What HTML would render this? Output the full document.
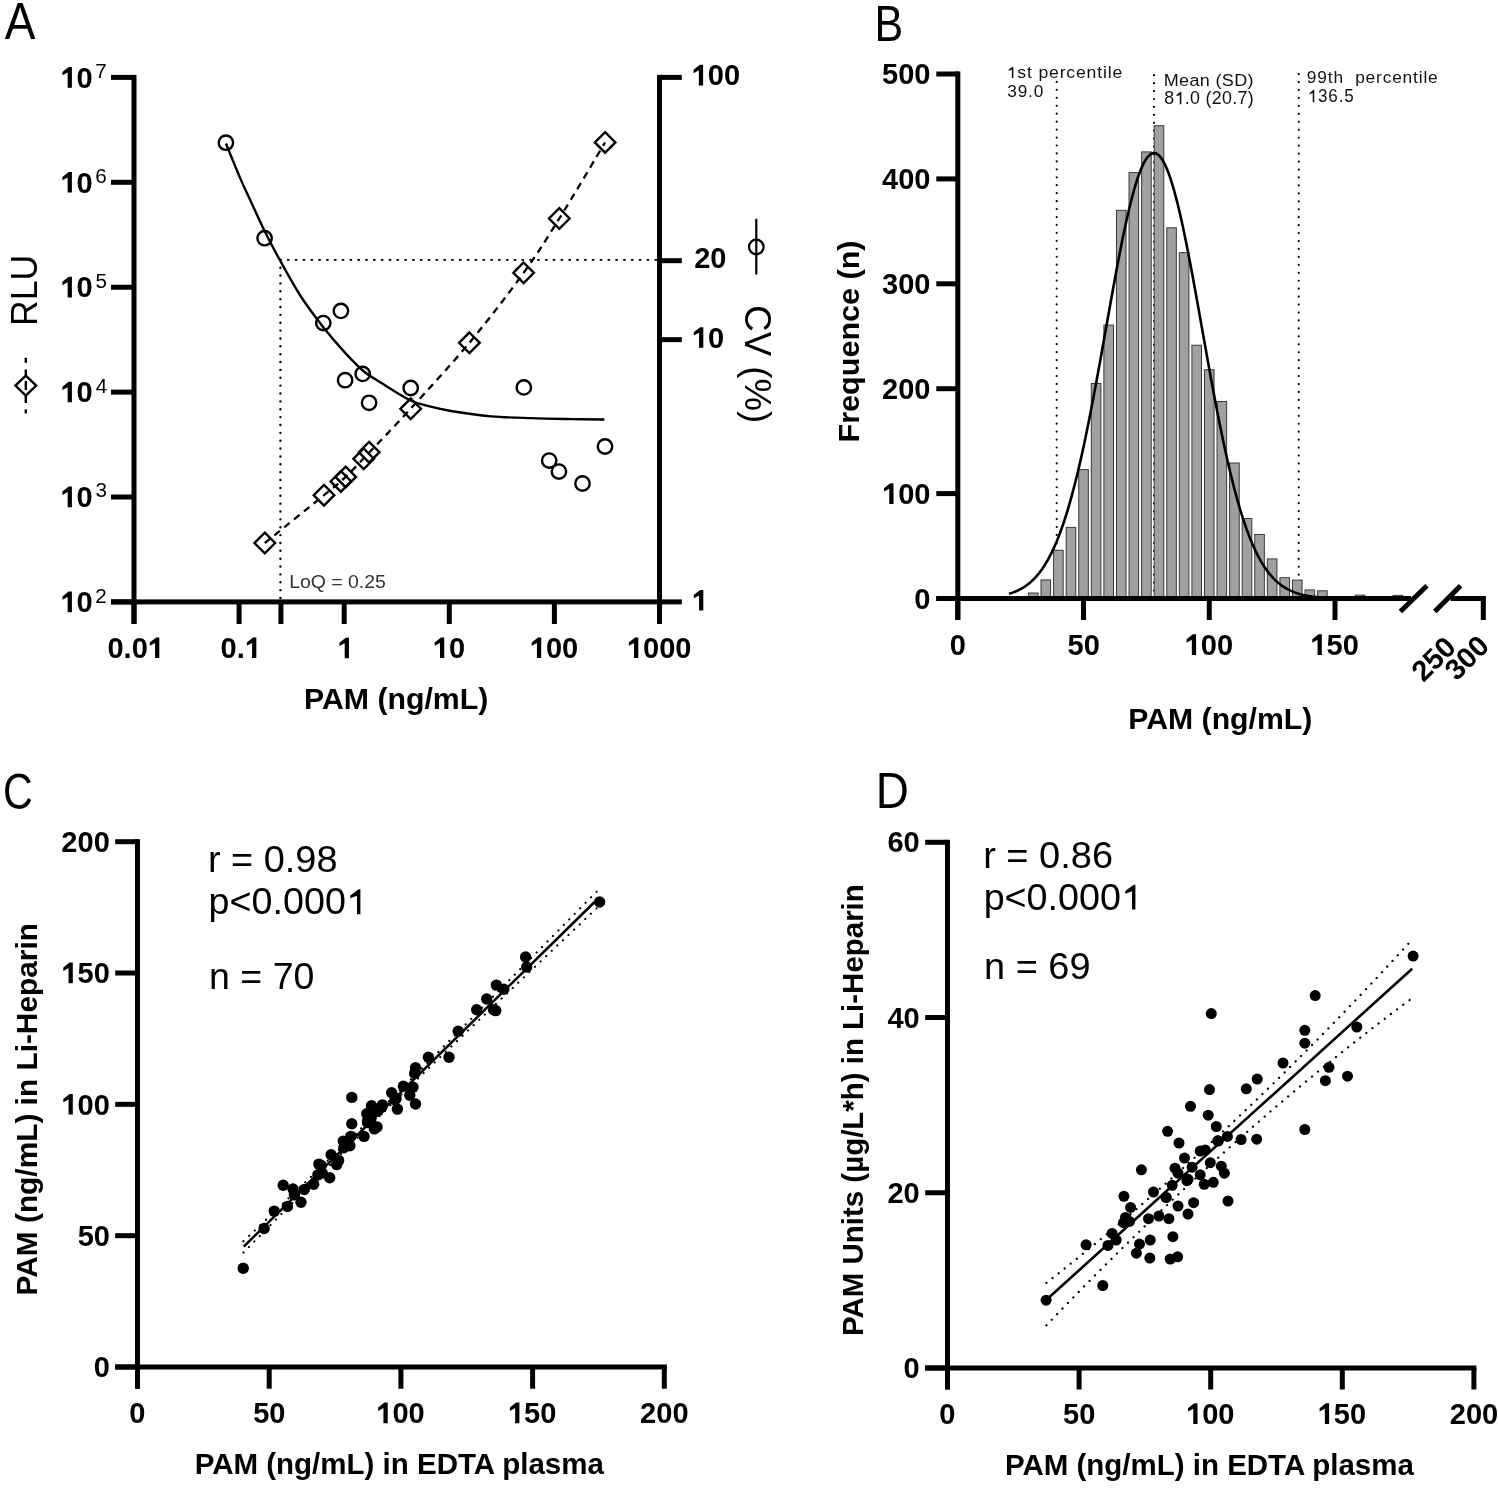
<!DOCTYPE html>
<html><head><meta charset="utf-8"><style>
html,body{margin:0;padding:0;background:#fff;}
svg{display:block;filter:grayscale(1);}
text{font-family:"Liberation Sans", sans-serif;}
</style></head><body>
<svg width="1498" height="1489" viewBox="0 0 1498 1489">
<rect width="1498" height="1489" fill="#fff"/>
<g transform="translate(4.770,38.700) scale(0.9212,1.0219)"><text x="0" y="0" font-size="50" >A</text></g>
<g transform="translate(874.561,41.100) scale(0.8598,1.0087)"><text x="0" y="0" font-size="50" >B</text></g>
<g transform="translate(2.937,809.193) scale(0.8254,1.0141)"><text x="0" y="0" font-size="50" >C</text></g>
<g transform="translate(875.729,808.400) scale(0.9176,1.0058)"><text x="0" y="0" font-size="50" >D</text></g>
<rect x="131.50" y="74.90" width="5.00" height="549.10" fill="#000"/>
<rect x="111.00" y="599.40" width="23.00" height="5.00" fill="#000"/>
<rect x="111.00" y="494.50" width="23.00" height="5.00" fill="#000"/>
<rect x="111.00" y="389.60" width="23.00" height="5.00" fill="#000"/>
<rect x="111.00" y="284.70" width="23.00" height="5.00" fill="#000"/>
<rect x="111.00" y="179.80" width="23.00" height="5.00" fill="#000"/>
<rect x="111.00" y="74.90" width="23.00" height="5.00" fill="#000"/>
<rect x="657.00" y="74.90" width="5.00" height="549.10" fill="#000"/>
<rect x="659.50" y="74.90" width="22.30" height="5.00" fill="#000"/>
<rect x="659.50" y="258.20" width="22.30" height="5.00" fill="#000"/>
<rect x="659.50" y="337.15" width="22.30" height="5.00" fill="#000"/>
<rect x="659.50" y="599.40" width="22.30" height="5.00" fill="#000"/>
<rect x="111.00" y="599.40" width="551.00" height="5.00" fill="#000"/>
<rect x="131.50" y="601.90" width="5.00" height="22.10" fill="#000"/>
<rect x="236.60" y="601.90" width="5.00" height="22.10" fill="#000"/>
<rect x="278.42" y="601.90" width="5.00" height="22.10" fill="#000"/>
<rect x="341.70" y="601.90" width="5.00" height="22.10" fill="#000"/>
<rect x="446.80" y="601.90" width="5.00" height="22.10" fill="#000"/>
<rect x="551.90" y="601.90" width="5.00" height="22.10" fill="#000"/>
<rect x="657.00" y="601.90" width="5.00" height="22.10" fill="#000"/>
<g transform="translate(60.441,612.143) scale(1.0023,1.0337)"><text x="0" y="0" font-size="29" font-weight="bold" > 0</text><path d="M11.441,0.000 L7.193,0.000 L7.193,-14.656 L1.954,-11.909 L1.954,-15.123 L8.213,-19.952 L11.441,-19.952Z"/></g>
<g transform="translate(95.167,602.650) scale(1.0333,1.0071)"><text x="0" y="0" font-size="20" >2</text></g>
<g transform="translate(60.441,507.243) scale(1.0023,1.0337)"><text x="0" y="0" font-size="29" font-weight="bold" > 0</text><path d="M11.441,0.000 L7.193,0.000 L7.193,-14.656 L1.954,-11.909 L1.954,-15.123 L8.213,-19.952 L11.441,-19.952Z"/></g>
<g transform="translate(95.425,497.498) scale(1.0333,1.0071)"><text x="0" y="0" font-size="20" >3</text></g>
<g transform="translate(60.441,402.343) scale(1.0023,1.0337)"><text x="0" y="0" font-size="29" font-weight="bold" > 0</text><path d="M11.441,0.000 L7.193,0.000 L7.193,-14.656 L1.954,-11.909 L1.954,-15.123 L8.213,-19.952 L11.441,-19.952Z"/></g>
<g transform="translate(95.683,392.850) scale(1.0333,1.0071)"><text x="0" y="0" font-size="20" >4</text></g>
<g transform="translate(60.441,297.443) scale(1.0023,1.0337)"><text x="0" y="0" font-size="29" font-weight="bold" > 0</text><path d="M11.441,0.000 L7.193,0.000 L7.193,-14.656 L1.954,-11.909 L1.954,-15.123 L8.213,-19.952 L11.441,-19.952Z"/></g>
<g transform="translate(95.425,287.698) scale(1.0333,1.0071)"><text x="0" y="0" font-size="20" >5</text></g>
<g transform="translate(60.441,192.543) scale(1.0023,1.0337)"><text x="0" y="0" font-size="29" font-weight="bold" > 0</text><path d="M11.441,0.000 L7.193,0.000 L7.193,-14.656 L1.954,-11.909 L1.954,-15.123 L8.213,-19.952 L11.441,-19.952Z"/></g>
<g transform="translate(95.167,182.798) scale(1.0333,1.0071)"><text x="0" y="0" font-size="20" >6</text></g>
<g transform="translate(60.441,87.643) scale(1.0023,1.0337)"><text x="0" y="0" font-size="29" font-weight="bold" > 0</text><path d="M11.441,0.000 L7.193,0.000 L7.193,-14.656 L1.954,-11.909 L1.954,-15.123 L8.213,-19.952 L11.441,-19.952Z"/></g>
<g transform="translate(95.167,78.150) scale(1.0333,1.0071)"><text x="0" y="0" font-size="20" >7</text></g>
<g transform="translate(691.641,85.493) scale(1.0023,1.0337)"><text x="0" y="0" font-size="29" font-weight="bold" > 00</text><path d="M11.441,0.000 L7.193,0.000 L7.193,-14.656 L1.954,-11.909 L1.954,-15.123 L8.213,-19.952 L11.441,-19.952Z"/></g>
<g transform="translate(694.198,268.393) scale(1.0023,1.0337)"><text x="0" y="0" font-size="29" font-weight="bold" >20</text></g>
<g transform="translate(691.841,347.793) scale(1.0023,1.0337)"><text x="0" y="0" font-size="29" font-weight="bold" > 0</text><path d="M11.441,0.000 L7.193,0.000 L7.193,-14.656 L1.954,-11.909 L1.954,-15.123 L8.213,-19.952 L11.441,-19.952Z"/></g>
<g transform="translate(691.841,610.600) scale(1.0023,1.0337)"><path d="M11.441,0.000 L7.193,0.000 L7.193,-14.656 L1.954,-11.909 L1.954,-15.123 L8.213,-19.952 L11.441,-19.952Z"/></g>
<g transform="translate(107.437,658.093) scale(1.0023,1.0337)"><text x="0" y="0" font-size="29" font-weight="bold" >0.0 </text><path d="M51.754,0.000 L47.506,0.000 L47.506,-14.656 L42.267,-11.909 L42.267,-15.123 L48.525,-19.952 L51.754,-19.952Z"/></g>
<g transform="translate(220.620,658.093) scale(1.0023,1.0337)"><text x="0" y="0" font-size="29" font-weight="bold" >0. </text><path d="M35.625,0.000 L31.377,0.000 L31.377,-14.656 L26.138,-11.909 L26.138,-15.123 L32.396,-19.952 L35.625,-19.952Z"/></g>
<g transform="translate(337.487,658.300) scale(1.0023,1.0337)"><path d="M11.441,0.000 L7.193,0.000 L7.193,-14.656 L1.954,-11.909 L1.954,-15.123 L8.213,-19.952 L11.441,-19.952Z"/></g>
<g transform="translate(432.785,658.093) scale(1.0023,1.0337)"><text x="0" y="0" font-size="29" font-weight="bold" > 0</text><path d="M11.441,0.000 L7.193,0.000 L7.193,-14.656 L1.954,-11.909 L1.954,-15.123 L8.213,-19.952 L11.441,-19.952Z"/></g>
<g transform="translate(529.741,658.093) scale(1.0023,1.0337)"><text x="0" y="0" font-size="29" font-weight="bold" > 00</text><path d="M11.441,0.000 L7.193,0.000 L7.193,-14.656 L1.954,-11.909 L1.954,-15.123 L8.213,-19.952 L11.441,-19.952Z"/></g>
<g transform="translate(626.823,658.093) scale(1.0023,1.0337)"><text x="0" y="0" font-size="29" font-weight="bold" > 000</text><path d="M11.441,0.000 L7.193,0.000 L7.193,-14.656 L1.954,-11.909 L1.954,-15.123 L8.213,-19.952 L11.441,-19.952Z"/></g>
<g transform="translate(303.947,709.199) scale(1.0264,0.9766)"><text x="0" y="0" font-size="29.5" font-weight="bold" >PAM (ng/mL)</text></g>
<g transform="translate(36.691,325.971) rotate(-90) scale(0.9902,1.0297)"><text x="0" y="0" font-size="36" >RLU</text></g>
<path d="M25.8,375.6 L36.2,385.6 L25.8,395.6 L15.4,385.6 Z" fill="none" stroke="#000" stroke-width="2.4"/>
<rect x="24.60" y="357.80" width="2.40" height="5.00" fill="#000"/>
<rect x="24.60" y="369.50" width="2.40" height="5.50" fill="#000"/>
<rect x="24.60" y="381.00" width="2.40" height="9.00" fill="#000"/>
<rect x="24.60" y="395.70" width="2.40" height="7.30" fill="#000"/>
<rect x="24.60" y="409.40" width="2.40" height="4.00" fill="#000"/>
<g transform="translate(744.858,305.221) rotate(90) scale(0.9896,0.9755)"><text x="0" y="0" font-size="37" >CV (%)</text></g>
<line x1="756.3" y1="218.8" x2="756.3" y2="274.5" stroke="#000" stroke-width="2.2"/>
<circle cx="756.3" cy="247" r="7.3" fill="none" stroke="#000" stroke-width="2.3"/>
<path d="M279.20,259.80 L657.00,259.80" fill="none" stroke="#000" stroke-width="1.8" stroke-dasharray="2.60 5.217" />
<path d="M280.40,259.80 L280.40,598.00" fill="none" stroke="#000" stroke-width="2.4" stroke-linecap="round" stroke-dasharray="0.01 7.855" />
<g transform="translate(289.152,587.715) scale(0.8843,0.8256)" fill="#333"><text x="0" y="0" font-size="22" >LoQ = 0.25</text></g>
<path d="M225.90,143.50 C228.32,149.35 236.30,169.07 240.40,178.60 C244.50,188.13 246.47,191.97 250.50,200.70 C254.53,209.43 259.73,221.15 264.60,231.00 C269.47,240.85 273.65,248.88 279.70,259.80 C285.75,270.72 293.57,285.18 300.90,296.50 C308.23,307.82 316.32,318.30 323.70,327.70 C331.08,337.10 338.58,345.68 345.20,352.90 C351.82,360.12 357.35,365.97 363.40,371.00 C369.45,376.03 373.63,378.18 381.50,383.10 C389.37,388.02 402.40,396.58 410.60,400.50 C418.80,404.42 423.98,404.85 430.70,406.60 C437.42,408.35 440.82,409.38 450.90,411.00 C460.98,412.62 477.77,415.10 491.20,416.30 C504.63,417.50 518.07,417.73 531.50,418.20 C544.93,418.67 559.65,418.88 571.80,419.10 C583.95,419.32 598.97,419.43 604.40,419.50" fill="none" stroke="#000" stroke-width="2.35"/>
<path d="M264.80,543.00 C274.67,535.03 310.92,505.83 324.00,495.20 C337.08,484.57 336.23,485.82 343.30,479.20 C350.37,472.58 355.17,467.27 366.40,455.50 C377.63,443.73 393.53,427.38 410.70,408.60 C427.87,389.82 450.58,365.43 469.40,342.80 C488.22,320.17 508.62,293.52 523.60,272.80 C538.58,252.08 545.72,240.23 559.30,218.50 C572.88,196.77 597.47,155.08 605.10,142.40" fill="none" stroke="#000" stroke-width="2.3" stroke-dasharray="7 5.5" stroke-linecap="butt"/>
<path d="M264.80,532.70 L275.10,543.00 L264.80,553.30 L254.50,543.00 Z" fill="none" stroke="#000" stroke-width="2.4"/>
<path d="M324.00,484.90 L334.30,495.20 L324.00,505.50 L313.70,495.20 Z" fill="none" stroke="#000" stroke-width="2.4"/>
<path d="M340.90,471.10 L351.20,481.40 L340.90,491.70 L330.60,481.40 Z" fill="none" stroke="#000" stroke-width="2.4"/>
<path d="M345.70,466.60 L356.00,476.90 L345.70,487.20 L335.40,476.90 Z" fill="none" stroke="#000" stroke-width="2.4"/>
<path d="M363.70,448.50 L374.00,458.80 L363.70,469.10 L353.40,458.80 Z" fill="none" stroke="#000" stroke-width="2.4"/>
<path d="M369.10,441.90 L379.40,452.20 L369.10,462.50 L358.80,452.20 Z" fill="none" stroke="#000" stroke-width="2.4"/>
<path d="M410.70,398.50 L421.00,408.80 L410.70,419.10 L400.40,408.80 Z" fill="none" stroke="#000" stroke-width="2.4"/>
<path d="M469.40,332.50 L479.70,342.80 L469.40,353.10 L459.10,342.80 Z" fill="none" stroke="#000" stroke-width="2.4"/>
<path d="M523.60,262.50 L533.90,272.80 L523.60,283.10 L513.30,272.80 Z" fill="none" stroke="#000" stroke-width="2.4"/>
<path d="M559.30,208.20 L569.60,218.50 L559.30,228.80 L549.00,218.50 Z" fill="none" stroke="#000" stroke-width="2.4"/>
<path d="M605.10,132.10 L615.40,142.40 L605.10,152.70 L594.80,142.40 Z" fill="none" stroke="#000" stroke-width="2.4"/>
<circle cx="225.90" cy="142.70" r="7.2" fill="none" stroke="#000" stroke-width="2.4"/>
<circle cx="264.60" cy="238.20" r="7.2" fill="none" stroke="#000" stroke-width="2.4"/>
<circle cx="340.90" cy="310.90" r="7.2" fill="none" stroke="#000" stroke-width="2.4"/>
<circle cx="323.30" cy="323.10" r="7.2" fill="none" stroke="#000" stroke-width="2.4"/>
<circle cx="362.70" cy="373.90" r="7.2" fill="none" stroke="#000" stroke-width="2.4"/>
<circle cx="345.10" cy="380.20" r="7.2" fill="none" stroke="#000" stroke-width="2.4"/>
<circle cx="369.10" cy="402.80" r="7.2" fill="none" stroke="#000" stroke-width="2.4"/>
<circle cx="410.70" cy="388.00" r="7.2" fill="none" stroke="#000" stroke-width="2.4"/>
<circle cx="523.80" cy="387.40" r="7.2" fill="none" stroke="#000" stroke-width="2.4"/>
<circle cx="549.20" cy="460.60" r="7.2" fill="none" stroke="#000" stroke-width="2.4"/>
<circle cx="558.90" cy="471.60" r="7.2" fill="none" stroke="#000" stroke-width="2.4"/>
<circle cx="582.50" cy="483.50" r="7.2" fill="none" stroke="#000" stroke-width="2.4"/>
<circle cx="605.00" cy="446.50" r="7.2" fill="none" stroke="#000" stroke-width="2.4"/>
<path d="M1056.70,81.90 L1056.70,598.50" fill="none" stroke="#000" stroke-width="2.2" stroke-linecap="round" stroke-dasharray="0.01 7.938" />
<path d="M1154.00,75.20 L1154.00,598.50" fill="none" stroke="#000" stroke-width="2.2" stroke-linecap="round" stroke-dasharray="0.01 7.919" />
<path d="M1298.70,74.20 L1298.70,598.50" fill="none" stroke="#000" stroke-width="2.2" stroke-linecap="round" stroke-dasharray="0.01 7.934" />
<rect x="1028.44" y="593.00" width="9.6" height="5.50" fill="#a0a0a0" stroke="#3a3a3a" stroke-width="1"/>
<rect x="1041.01" y="579.90" width="9.6" height="18.60" fill="#a0a0a0" stroke="#3a3a3a" stroke-width="1"/>
<rect x="1053.59" y="550.30" width="9.6" height="48.20" fill="#a0a0a0" stroke="#3a3a3a" stroke-width="1"/>
<rect x="1066.16" y="527.40" width="9.6" height="71.10" fill="#a0a0a0" stroke="#3a3a3a" stroke-width="1"/>
<rect x="1078.73" y="469.60" width="9.6" height="128.90" fill="#a0a0a0" stroke="#3a3a3a" stroke-width="1"/>
<rect x="1091.31" y="383.50" width="9.6" height="215.00" fill="#a0a0a0" stroke="#3a3a3a" stroke-width="1"/>
<rect x="1103.88" y="325.10" width="9.6" height="273.40" fill="#a0a0a0" stroke="#3a3a3a" stroke-width="1"/>
<rect x="1116.46" y="210.30" width="9.6" height="388.20" fill="#a0a0a0" stroke="#3a3a3a" stroke-width="1"/>
<rect x="1129.03" y="172.60" width="9.6" height="425.90" fill="#a0a0a0" stroke="#3a3a3a" stroke-width="1"/>
<rect x="1141.60" y="151.90" width="9.6" height="446.60" fill="#a0a0a0" stroke="#3a3a3a" stroke-width="1"/>
<rect x="1154.18" y="125.70" width="9.6" height="472.80" fill="#a0a0a0" stroke="#3a3a3a" stroke-width="1"/>
<rect x="1166.75" y="227.80" width="9.6" height="370.70" fill="#a0a0a0" stroke="#3a3a3a" stroke-width="1"/>
<rect x="1179.32" y="252.60" width="9.6" height="345.90" fill="#a0a0a0" stroke="#3a3a3a" stroke-width="1"/>
<rect x="1191.90" y="345.20" width="9.6" height="253.30" fill="#a0a0a0" stroke="#3a3a3a" stroke-width="1"/>
<rect x="1204.47" y="369.70" width="9.6" height="228.80" fill="#a0a0a0" stroke="#3a3a3a" stroke-width="1"/>
<rect x="1217.04" y="401.50" width="9.6" height="197.00" fill="#a0a0a0" stroke="#3a3a3a" stroke-width="1"/>
<rect x="1229.62" y="463.00" width="9.6" height="135.50" fill="#a0a0a0" stroke="#3a3a3a" stroke-width="1"/>
<rect x="1242.19" y="518.50" width="9.6" height="80.00" fill="#a0a0a0" stroke="#3a3a3a" stroke-width="1"/>
<rect x="1254.76" y="534.50" width="9.6" height="64.00" fill="#a0a0a0" stroke="#3a3a3a" stroke-width="1"/>
<rect x="1267.34" y="558.90" width="9.6" height="39.60" fill="#a0a0a0" stroke="#3a3a3a" stroke-width="1"/>
<rect x="1279.91" y="577.70" width="9.6" height="20.80" fill="#a0a0a0" stroke="#3a3a3a" stroke-width="1"/>
<rect x="1292.48" y="580.10" width="9.6" height="18.40" fill="#a0a0a0" stroke="#3a3a3a" stroke-width="1"/>
<rect x="1305.06" y="589.90" width="9.6" height="8.60" fill="#a0a0a0" stroke="#3a3a3a" stroke-width="1"/>
<rect x="1317.63" y="590.80" width="9.6" height="7.70" fill="#a0a0a0" stroke="#3a3a3a" stroke-width="1"/>
<rect x="1355.35" y="595.10" width="9.6" height="3.40" fill="#a0a0a0" stroke="#3a3a3a" stroke-width="1"/>
<rect x="1393.07" y="595.40" width="9.6" height="3.10" fill="#a0a0a0" stroke="#3a3a3a" stroke-width="1"/>
<path d="M1009.00,593.85 L1012.00,592.90 L1015.00,591.77 L1018.00,590.45 L1021.00,588.91 L1024.00,587.12 L1027.00,585.05 L1030.00,582.66 L1033.00,579.92 L1036.00,576.80 L1039.00,573.24 L1042.00,569.22 L1045.00,564.69 L1048.00,559.61 L1051.00,553.94 L1054.00,547.64 L1057.00,540.68 L1060.00,533.03 L1063.00,524.64 L1066.00,515.52 L1069.00,505.62 L1072.00,494.96 L1075.00,483.51 L1078.00,471.30 L1081.00,458.35 L1084.00,444.67 L1087.00,430.32 L1090.00,415.35 L1093.00,399.82 L1096.00,383.82 L1099.00,367.43 L1102.00,350.76 L1105.00,333.92 L1108.00,317.04 L1111.00,300.25 L1114.00,283.69 L1117.00,267.50 L1120.00,251.85 L1123.00,236.86 L1126.00,222.70 L1129.00,209.51 L1132.00,197.42 L1135.00,186.57 L1138.00,177.08 L1141.00,169.04 L1144.00,162.56 L1147.00,157.71 L1150.00,154.54 L1153.00,153.10 L1156.00,153.39 L1159.00,155.41 L1162.00,159.14 L1165.00,164.55 L1168.00,171.55 L1171.00,180.08 L1174.00,190.04 L1177.00,201.32 L1180.00,213.79 L1183.00,227.32 L1186.00,241.77 L1189.00,257.00 L1192.00,272.85 L1195.00,289.17 L1198.00,305.83 L1201.00,322.66 L1204.00,339.54 L1207.00,356.34 L1210.00,372.93 L1213.00,389.20 L1216.00,405.05 L1219.00,420.41 L1222.00,435.18 L1225.00,449.31 L1228.00,462.75 L1231.00,475.46 L1234.00,487.41 L1237.00,498.60 L1240.00,509.01 L1243.00,518.64 L1246.00,527.52 L1249.00,535.66 L1252.00,543.08 L1255.00,549.81 L1258.00,555.89 L1261.00,561.36 L1264.00,566.26 L1267.00,570.61 L1270.00,574.48 L1273.00,577.88 L1276.00,580.88 L1279.00,583.50 L1282.00,585.77 L1285.00,587.75 L1288.00,589.45 L1291.00,590.92 L1294.00,592.17 L1297.00,593.23 L1300.00,594.14 L1303.00,594.90 L1306.00,595.54 L1309.00,596.08 L1312.00,596.52 L1315.00,596.89 L1318.00,597.20 L1321.00,597.45 L1324.00,597.66 L1327.00,597.83 L1330.00,597.96 L1333.00,598.07" fill="none" stroke="#000" stroke-width="2.6" stroke-linejoin="round"/>
<rect x="955.30" y="71.40" width="5.00" height="548.60" fill="#000"/>
<rect x="936.30" y="596.00" width="21.50" height="5.00" fill="#000"/>
<rect x="936.30" y="491.10" width="21.50" height="5.00" fill="#000"/>
<rect x="936.30" y="386.20" width="21.50" height="5.00" fill="#000"/>
<rect x="936.30" y="281.30" width="21.50" height="5.00" fill="#000"/>
<rect x="936.30" y="176.40" width="21.50" height="5.00" fill="#000"/>
<rect x="936.30" y="71.50" width="21.50" height="5.00" fill="#000"/>
<rect x="936.30" y="596.00" width="474.70" height="5.00" fill="#000"/>
<rect x="955.30" y="598.50" width="5.00" height="21.50" fill="#000"/>
<rect x="1081.03" y="598.50" width="5.00" height="21.50" fill="#000"/>
<rect x="1206.77" y="598.50" width="5.00" height="21.50" fill="#000"/>
<rect x="1332.50" y="598.50" width="5.00" height="21.50" fill="#000"/>
<rect x="1450.70" y="596.00" width="35.10" height="5.00" fill="#000"/>
<rect x="1480.80" y="598.50" width="5.00" height="21.50" fill="#000"/>
<line x1="1400.4" y1="611.5" x2="1426.9" y2="585.8" stroke="#000" stroke-width="5"/>
<line x1="1434.8" y1="611.5" x2="1460.6" y2="585.8" stroke="#000" stroke-width="5"/>
<g transform="translate(914.366,608.793) scale(1.0023,1.0337)"><text x="0" y="0" font-size="29" font-weight="bold" >0</text></g>
<g transform="translate(882.041,503.893) scale(1.0023,1.0337)"><text x="0" y="0" font-size="29" font-weight="bold" > 00</text><path d="M11.441,0.000 L7.193,0.000 L7.193,-14.656 L1.954,-11.909 L1.954,-15.123 L8.213,-19.952 L11.441,-19.952Z"/></g>
<g transform="translate(882.041,398.993) scale(1.0023,1.0337)"><text x="0" y="0" font-size="29" font-weight="bold" >200</text></g>
<g transform="translate(882.041,294.093) scale(1.0023,1.0337)"><text x="0" y="0" font-size="29" font-weight="bold" >300</text></g>
<g transform="translate(882.041,189.193) scale(1.0023,1.0337)"><text x="0" y="0" font-size="29" font-weight="bold" >400</text></g>
<g transform="translate(882.041,84.293) scale(1.0023,1.0337)"><text x="0" y="0" font-size="29" font-weight="bold" >500</text></g>
<g transform="translate(949.656,654.993) scale(1.0023,1.0337)"><text x="0" y="0" font-size="29" font-weight="bold" >0</text></g>
<g transform="translate(1067.498,654.993) scale(1.0023,1.0337)"><text x="0" y="0" font-size="29" font-weight="bold" >50</text></g>
<g transform="translate(1184.611,654.993) scale(1.0023,1.0337)"><text x="0" y="0" font-size="29" font-weight="bold" > 00</text><path d="M11.441,0.000 L7.193,0.000 L7.193,-14.656 L1.954,-11.909 L1.954,-15.123 L8.213,-19.952 L11.441,-19.952Z"/></g>
<g transform="translate(1310.346,654.993) scale(1.0023,1.0337)"><text x="0" y="0" font-size="29" font-weight="bold" > 50</text><path d="M11.441,0.000 L7.193,0.000 L7.193,-14.656 L1.954,-11.909 L1.954,-15.123 L8.213,-19.952 L11.441,-19.952Z"/></g>
<text transform="translate(1440.5,666.0) rotate(-45)" font-size="29" font-weight="bold" text-anchor="middle">250</text>
<text transform="translate(1473.8,664.7) rotate(-45)" font-size="29" font-weight="bold" text-anchor="middle">300</text>
<g transform="translate(1128.352,729.199) scale(1.0241,0.9766)"><text x="0" y="0" font-size="29.5" font-weight="bold" >PAM (ng/mL)</text></g>
<g transform="translate(859.238,442.436) rotate(-90) scale(1.0182,0.9699)"><text x="0" y="0" font-size="30" font-weight="bold" >Frequence (n)</text></g>
<g transform="translate(1006.674,77.917) scale(1.0657,0.9806)" fill="#111"><text x="0" y="0" font-size="16.5" letter-spacing="0.8" > st percentile</text><path d="M6.324,0.000 L4.834,0.000 L4.834,-8.403 L1.901,-7.235 L1.901,-8.532 L5.559,-11.352 L6.324,-11.352Z"/></g>
<g transform="translate(1007.216,96.951) scale(1.0455,1.0174)" fill="#111"><text x="0" y="0" font-size="16.5" letter-spacing="0.8" >39.0</text></g>
<g transform="translate(1163.733,85.716) scale(1.0938,1.0387)" fill="#111"><text x="0" y="0" font-size="16.5" letter-spacing="0.3" >Mean (SD)</text></g>
<g transform="translate(1164.290,104.216) scale(1.0802,1.0968)" fill="#111"><text x="0" y="0" font-size="16.5" letter-spacing="0.3" >8 .0 (20.7)</text><path d="M15.797,0.000 L14.307,0.000 L14.307,-8.403 L11.374,-7.235 L11.374,-8.532 L15.032,-11.352 L15.797,-11.352Z"/></g>
<g transform="translate(1306.813,83.139) scale(1.0499,1.0323)" fill="#111"><text x="0" y="0" font-size="16.5" letter-spacing="0.8" >99th&#160;&#160;percentile</text></g>
<g transform="translate(1307.733,102.200) scale(1.0347,1.0909)" fill="#111"><text x="0" y="0" font-size="16.5" letter-spacing="0.8" > 36.5</text><path d="M6.324,0.000 L4.834,0.000 L4.834,-8.403 L1.901,-7.235 L1.901,-8.532 L5.559,-11.352 L6.324,-11.352Z"/></g>
<rect x="135.00" y="839.20" width="5.00" height="549.50" fill="#000"/>
<rect x="115.20" y="1364.50" width="22.30" height="5.00" fill="#000"/>
<rect x="115.20" y="1233.17" width="22.30" height="5.00" fill="#000"/>
<rect x="115.20" y="1101.85" width="22.30" height="5.00" fill="#000"/>
<rect x="115.20" y="970.52" width="22.30" height="5.00" fill="#000"/>
<rect x="115.20" y="839.20" width="22.30" height="5.00" fill="#000"/>
<rect x="115.20" y="1364.50" width="551.60" height="5.00" fill="#000"/>
<rect x="135.00" y="1367.00" width="5.00" height="21.70" fill="#000"/>
<rect x="266.70" y="1367.00" width="5.00" height="21.70" fill="#000"/>
<rect x="398.40" y="1367.00" width="5.00" height="21.70" fill="#000"/>
<rect x="530.10" y="1367.00" width="5.00" height="21.70" fill="#000"/>
<rect x="661.80" y="1367.00" width="5.00" height="21.70" fill="#000"/>
<g transform="translate(93.666,1377.193) scale(1.0023,1.0337)"><text x="0" y="0" font-size="29" font-weight="bold" >0</text></g>
<g transform="translate(77.629,1245.868) scale(1.0023,1.0337)"><text x="0" y="0" font-size="29" font-weight="bold" >50</text></g>
<g transform="translate(61.341,1114.543) scale(1.0023,1.0337)"><text x="0" y="0" font-size="29" font-weight="bold" > 00</text><path d="M11.441,0.000 L7.193,0.000 L7.193,-14.656 L1.954,-11.909 L1.954,-15.123 L8.213,-19.952 L11.441,-19.952Z"/></g>
<g transform="translate(61.341,983.218) scale(1.0023,1.0337)"><text x="0" y="0" font-size="29" font-weight="bold" > 50</text><path d="M11.441,0.000 L7.193,0.000 L7.193,-14.656 L1.954,-11.909 L1.954,-15.123 L8.213,-19.952 L11.441,-19.952Z"/></g>
<g transform="translate(61.341,851.893) scale(1.0023,1.0337)"><text x="0" y="0" font-size="29" font-weight="bold" >200</text></g>
<g transform="translate(129.356,1423.193) scale(1.0023,1.0337)"><text x="0" y="0" font-size="29" font-weight="bold" >0</text></g>
<g transform="translate(253.163,1423.193) scale(1.0023,1.0337)"><text x="0" y="0" font-size="29" font-weight="bold" >50</text></g>
<g transform="translate(376.241,1423.193) scale(1.0023,1.0337)"><text x="0" y="0" font-size="29" font-weight="bold" > 00</text><path d="M11.441,0.000 L7.193,0.000 L7.193,-14.656 L1.954,-11.909 L1.954,-15.123 L8.213,-19.952 L11.441,-19.952Z"/></g>
<g transform="translate(507.941,1423.193) scale(1.0023,1.0337)"><text x="0" y="0" font-size="29" font-weight="bold" > 50</text><path d="M11.441,0.000 L7.193,0.000 L7.193,-14.656 L1.954,-11.909 L1.954,-15.123 L8.213,-19.952 L11.441,-19.952Z"/></g>
<g transform="translate(640.120,1423.193) scale(1.0023,1.0337)"><text x="0" y="0" font-size="29" font-weight="bold" >200</text></g>
<g transform="translate(194.699,1473.707) scale(1.0004,0.9910)"><text x="0" y="0" font-size="29.5" font-weight="bold" >PAM (ng/mL) in EDTA plasma</text></g>
<g transform="translate(37.076,1295.423) rotate(-90) scale(1.0117,0.9802)"><text x="0" y="0" font-size="29.5" font-weight="bold" >PAM (ng/mL) in Li-Heparin</text></g>
<g transform="translate(207.970,871.995) scale(1.0521,1.0157)"><text x="0" y="0" font-size="36" >r = 0.98</text></g>
<g transform="translate(208.542,914.215) scale(1.0478,1.0046)"><text x="0" y="0" font-size="36" >p&lt;0.000 </text><path d="M144.932,0.000 L141.680,0.000 L141.680,-18.334 L135.281,-15.785 L135.281,-18.615 L143.262,-24.768 L144.932,-24.768Z"/></g>
<g transform="translate(209.096,989.093) scale(1.0416,1.0235)"><text x="0" y="0" font-size="36" >n = 70</text></g>
<path d="M243.50,1241.16 L245.49,1239.26 L247.49,1237.36 L249.48,1235.47 L251.48,1233.57 L253.47,1231.67 L255.47,1229.78 L257.46,1227.88 L259.45,1225.98 L261.45,1224.08 L263.44,1222.18 L265.44,1220.29 L267.43,1218.39 L269.43,1216.49 L271.42,1214.59 L273.42,1212.69 L275.41,1210.79 L277.40,1208.89 L279.40,1206.98 L281.39,1205.08 L283.39,1203.18 L285.38,1201.28 L287.38,1199.37 L289.37,1197.47 L291.36,1195.57 L293.36,1193.66 L295.35,1191.76 L297.35,1189.85 L299.34,1187.94 L301.34,1186.04 L303.33,1184.13 L305.32,1182.22 L307.32,1180.31 L309.31,1178.40 L311.31,1176.49 L313.30,1174.58 L315.30,1172.67 L317.29,1170.76 L319.29,1168.84 L321.28,1166.93 L323.27,1165.01 L325.27,1163.09 L327.26,1161.18 L329.26,1159.26 L331.25,1157.34 L333.25,1155.42 L335.24,1153.49 L337.23,1151.57 L339.23,1149.65 L341.22,1147.72 L343.22,1145.79 L345.21,1143.86 L347.21,1141.93 L349.20,1140.00 L351.19,1138.07 L353.19,1136.13 L355.18,1134.20 L357.18,1132.26 L359.17,1130.32 L361.17,1128.38 L363.16,1126.43 L365.16,1124.49 L367.15,1122.54 L369.14,1120.59 L371.14,1118.64 L373.13,1116.69 L375.13,1114.73 L377.12,1112.78 L379.12,1110.82 L381.11,1108.86 L383.10,1106.90 L385.10,1104.93 L387.09,1102.97 L389.09,1101.00 L391.08,1099.03 L393.08,1097.06 L395.07,1095.09 L397.06,1093.11 L399.06,1091.13 L401.05,1089.16 L403.05,1087.18 L405.04,1085.19 L407.04,1083.21 L409.03,1081.23 L411.03,1079.24 L413.02,1077.25 L415.01,1075.26 L417.01,1073.27 L419.00,1071.28 L421.00,1069.29 L422.99,1067.29 L424.99,1065.29 L426.98,1063.30 L428.97,1061.30 L430.97,1059.30 L432.96,1057.30 L434.96,1055.30 L436.95,1053.30 L438.95,1051.29 L440.94,1049.29 L442.94,1047.28 L444.93,1045.28 L446.92,1043.27 L448.92,1041.26 L450.91,1039.25 L452.91,1037.24 L454.90,1035.23 L456.90,1033.22 L458.89,1031.21 L460.88,1029.20 L462.88,1027.19 L464.87,1025.17 L466.87,1023.16 L468.86,1021.15 L470.86,1019.13 L472.85,1017.12 L474.84,1015.10 L476.84,1013.09 L478.83,1011.07 L480.83,1009.05 L482.82,1007.04 L484.82,1005.02 L486.81,1003.00 L488.81,1000.98 L490.80,998.96 L492.79,996.94 L494.79,994.92 L496.78,992.90 L498.78,990.88 L500.77,988.86 L502.77,986.84 L504.76,984.82 L506.75,982.80 L508.75,980.78 L510.74,978.76 L512.74,976.74 L514.73,974.71 L516.73,972.69 L518.72,970.67 L520.71,968.65 L522.71,966.62 L524.70,964.60 L526.70,962.58 L528.69,960.55 L530.69,958.53 L532.68,956.51 L534.68,954.48 L536.67,952.46 L538.66,950.43 L540.66,948.41 L542.65,946.38 L544.65,944.36 L546.64,942.33 L548.64,940.31 L550.63,938.28 L552.62,936.26 L554.62,934.23 L556.61,932.21 L558.61,930.18 L560.60,928.16 L562.60,926.13 L564.59,924.10 L566.58,922.08 L568.58,920.05 L570.57,918.03 L572.57,916.00 L574.56,913.97 L576.56,911.95 L578.55,909.92 L580.55,907.89 L582.54,905.87 L584.53,903.84 L586.53,901.81 L588.52,899.78 L590.52,897.76 L592.51,895.73 L594.51,893.70 L596.50,891.68" fill="none" stroke="#000" stroke-width="2.2" stroke-linecap="round" stroke-dasharray="0.01 7.752" />
<path d="M243.50,1252.44 L245.49,1250.41 L247.49,1248.39 L249.48,1246.37 L251.48,1244.35 L253.47,1242.33 L255.47,1240.31 L257.46,1238.29 L259.45,1236.27 L261.45,1234.25 L263.44,1232.23 L265.44,1230.21 L267.43,1228.19 L269.43,1226.17 L271.42,1224.15 L273.42,1222.13 L275.41,1220.12 L277.40,1218.10 L279.40,1216.08 L281.39,1214.07 L283.39,1212.05 L285.38,1210.03 L287.38,1208.02 L289.37,1206.00 L291.36,1203.99 L293.36,1201.98 L295.35,1199.96 L297.35,1197.95 L299.34,1195.94 L301.34,1193.93 L303.33,1191.92 L305.32,1189.91 L307.32,1187.90 L309.31,1185.89 L311.31,1183.88 L313.30,1181.88 L315.30,1179.87 L317.29,1177.87 L319.29,1175.86 L321.28,1173.86 L323.27,1171.86 L325.27,1169.85 L327.26,1167.85 L329.26,1165.85 L331.25,1163.86 L333.25,1161.86 L335.24,1159.86 L337.23,1157.87 L339.23,1155.88 L341.22,1153.88 L343.22,1151.89 L345.21,1149.90 L347.21,1147.92 L349.20,1145.93 L351.19,1143.94 L353.19,1141.96 L355.18,1139.98 L357.18,1138.00 L359.17,1136.02 L361.17,1134.05 L363.16,1132.07 L365.16,1130.10 L367.15,1128.13 L369.14,1126.16 L371.14,1124.19 L373.13,1122.22 L375.13,1120.26 L377.12,1118.30 L379.12,1116.34 L381.11,1114.38 L383.10,1112.42 L385.10,1110.47 L387.09,1108.52 L389.09,1106.57 L391.08,1104.62 L393.08,1102.67 L395.07,1100.73 L397.06,1098.78 L399.06,1096.84 L401.05,1094.90 L403.05,1092.96 L405.04,1091.03 L407.04,1089.09 L409.03,1087.16 L411.03,1085.23 L413.02,1083.30 L415.01,1081.37 L417.01,1079.44 L419.00,1077.52 L421.00,1075.59 L422.99,1073.67 L424.99,1071.75 L426.98,1069.82 L428.97,1067.90 L430.97,1065.99 L432.96,1064.07 L434.96,1062.15 L436.95,1060.24 L438.95,1058.32 L440.94,1056.41 L442.94,1054.49 L444.93,1052.58 L446.92,1050.67 L448.92,1048.76 L450.91,1046.85 L452.91,1044.94 L454.90,1043.03 L456.90,1041.13 L458.89,1039.22 L460.88,1037.31 L462.88,1035.41 L464.87,1033.50 L466.87,1031.60 L468.86,1029.69 L470.86,1027.79 L472.85,1025.89 L474.84,1023.98 L476.84,1022.08 L478.83,1020.18 L480.83,1018.28 L482.82,1016.38 L484.82,1014.48 L486.81,1012.58 L488.81,1010.68 L490.80,1008.78 L492.79,1006.88 L494.79,1004.98 L496.78,1003.08 L498.78,1001.18 L500.77,999.29 L502.77,997.39 L504.76,995.49 L506.75,993.59 L508.75,991.70 L510.74,989.80 L512.74,987.90 L514.73,986.01 L516.73,984.11 L518.72,982.22 L520.71,980.32 L522.71,978.43 L524.70,976.53 L526.70,974.64 L528.69,972.74 L530.69,970.85 L532.68,968.95 L534.68,967.06 L536.67,965.17 L538.66,963.27 L540.66,961.38 L542.65,959.48 L544.65,957.59 L546.64,955.70 L548.64,953.80 L550.63,951.91 L552.62,950.02 L554.62,948.13 L556.61,946.23 L558.61,944.34 L560.60,942.45 L562.60,940.56 L564.59,938.66 L566.58,936.77 L568.58,934.88 L570.57,932.99 L572.57,931.10 L574.56,929.21 L576.56,927.31 L578.55,925.42 L580.55,923.53 L582.54,921.64 L584.53,919.75 L586.53,917.86 L588.52,915.97 L590.52,914.08 L592.51,912.18 L594.51,910.29 L596.50,908.40" fill="none" stroke="#000" stroke-width="2.2" stroke-linecap="round" stroke-dasharray="0.01 7.692" />
<line x1="243.7" y1="1246.6" x2="594.3" y2="902.2" stroke="#000" stroke-width="2.6"/>
<circle cx="243.20" cy="1268.30" r="5.7"/>
<circle cx="264.10" cy="1228.50" r="5.7"/>
<circle cx="274.20" cy="1211.10" r="5.7"/>
<circle cx="287.40" cy="1206.40" r="5.7"/>
<circle cx="283.20" cy="1185.30" r="5.7"/>
<circle cx="293.00" cy="1189.00" r="5.7"/>
<circle cx="294.40" cy="1194.70" r="5.7"/>
<circle cx="301.00" cy="1202.20" r="5.7"/>
<circle cx="304.30" cy="1189.50" r="5.7"/>
<circle cx="313.70" cy="1184.30" r="5.7"/>
<circle cx="317.90" cy="1174.90" r="5.7"/>
<circle cx="322.20" cy="1173.00" r="5.7"/>
<circle cx="318.90" cy="1164.10" r="5.7"/>
<circle cx="321.20" cy="1165.50" r="5.7"/>
<circle cx="329.70" cy="1177.70" r="5.7"/>
<circle cx="331.10" cy="1154.70" r="5.7"/>
<circle cx="338.60" cy="1160.40" r="5.7"/>
<circle cx="336.70" cy="1164.60" r="5.7"/>
<circle cx="343.30" cy="1141.10" r="5.7"/>
<circle cx="343.80" cy="1147.70" r="5.7"/>
<circle cx="350.80" cy="1136.40" r="5.7"/>
<circle cx="349.90" cy="1145.80" r="5.7"/>
<circle cx="351.80" cy="1123.70" r="5.7"/>
<circle cx="351.80" cy="1097.40" r="5.7"/>
<circle cx="364.00" cy="1136.40" r="5.7"/>
<circle cx="366.80" cy="1113.80" r="5.7"/>
<circle cx="367.70" cy="1120.40" r="5.7"/>
<circle cx="371.50" cy="1105.80" r="5.7"/>
<circle cx="374.30" cy="1128.90" r="5.7"/>
<circle cx="377.10" cy="1127.00" r="5.7"/>
<circle cx="381.80" cy="1107.30" r="5.7"/>
<circle cx="382.40" cy="1104.90" r="5.7"/>
<circle cx="391.70" cy="1092.70" r="5.7"/>
<circle cx="396.10" cy="1098.40" r="5.7"/>
<circle cx="397.40" cy="1109.10" r="5.7"/>
<circle cx="403.40" cy="1086.30" r="5.7"/>
<circle cx="409.80" cy="1095.20" r="5.7"/>
<circle cx="413.00" cy="1087.10" r="5.7"/>
<circle cx="415.50" cy="1104.00" r="5.7"/>
<circle cx="415.50" cy="1067.80" r="5.7"/>
<circle cx="414.70" cy="1073.40" r="5.7"/>
<circle cx="428.40" cy="1057.30" r="5.7"/>
<circle cx="449.00" cy="1057.30" r="5.7"/>
<circle cx="458.20" cy="1031.20" r="5.7"/>
<circle cx="476.70" cy="1009.80" r="5.7"/>
<circle cx="486.70" cy="999.00" r="5.7"/>
<circle cx="493.60" cy="1009.80" r="5.7"/>
<circle cx="495.70" cy="1010.60" r="5.7"/>
<circle cx="496.40" cy="985.10" r="5.7"/>
<circle cx="503.80" cy="989.30" r="5.7"/>
<circle cx="525.60" cy="957.00" r="5.7"/>
<circle cx="526.70" cy="967.00" r="5.7"/>
<circle cx="599.60" cy="902.00" r="5.7"/>
<circle cx="372.70" cy="1112.70" r="5.7"/>
<circle cx="371.00" cy="1118.50" r="5.7"/>
<circle cx="395.00" cy="1100.00" r="5.7"/>
<circle cx="367.50" cy="1122.50" r="5.7"/>
<circle cx="378.00" cy="1111.00" r="5.7"/>
<rect x="945.00" y="839.80" width="5.00" height="549.70" fill="#000"/>
<rect x="925.20" y="1365.50" width="22.30" height="5.00" fill="#000"/>
<rect x="925.20" y="1190.26" width="22.30" height="5.00" fill="#000"/>
<rect x="925.20" y="1015.02" width="22.30" height="5.00" fill="#000"/>
<rect x="925.20" y="839.78" width="22.30" height="5.00" fill="#000"/>
<rect x="925.20" y="1365.50" width="551.20" height="5.00" fill="#000"/>
<rect x="945.00" y="1368.00" width="5.00" height="21.50" fill="#000"/>
<rect x="1076.60" y="1368.00" width="5.00" height="21.50" fill="#000"/>
<rect x="1208.20" y="1368.00" width="5.00" height="21.50" fill="#000"/>
<rect x="1339.80" y="1368.00" width="5.00" height="21.50" fill="#000"/>
<rect x="1471.40" y="1368.00" width="5.00" height="21.50" fill="#000"/>
<g transform="translate(903.466,1378.143) scale(1.0023,1.0337)"><text x="0" y="0" font-size="29" font-weight="bold" >0</text></g>
<g transform="translate(887.429,1202.903) scale(1.0023,1.0337)"><text x="0" y="0" font-size="29" font-weight="bold" >20</text></g>
<g transform="translate(887.429,1027.663) scale(1.0023,1.0337)"><text x="0" y="0" font-size="29" font-weight="bold" >40</text></g>
<g transform="translate(887.429,852.423) scale(1.0023,1.0337)"><text x="0" y="0" font-size="29" font-weight="bold" >60</text></g>
<g transform="translate(939.356,1423.893) scale(1.0023,1.0337)"><text x="0" y="0" font-size="29" font-weight="bold" >0</text></g>
<g transform="translate(1063.063,1423.893) scale(1.0023,1.0337)"><text x="0" y="0" font-size="29" font-weight="bold" >50</text></g>
<g transform="translate(1186.041,1423.893) scale(1.0023,1.0337)"><text x="0" y="0" font-size="29" font-weight="bold" > 00</text><path d="M11.441,0.000 L7.193,0.000 L7.193,-14.656 L1.954,-11.909 L1.954,-15.123 L8.213,-19.952 L11.441,-19.952Z"/></g>
<g transform="translate(1317.641,1423.893) scale(1.0023,1.0337)"><text x="0" y="0" font-size="29" font-weight="bold" > 50</text><path d="M11.441,0.000 L7.193,0.000 L7.193,-14.656 L1.954,-11.909 L1.954,-15.123 L8.213,-19.952 L11.441,-19.952Z"/></g>
<g transform="translate(1449.720,1423.893) scale(1.0023,1.0337)"><text x="0" y="0" font-size="29" font-weight="bold" >200</text></g>
<g transform="translate(1005.001,1474.716) scale(0.9996,1.0054)"><text x="0" y="0" font-size="29.5" font-weight="bold" >PAM (ng/mL) in EDTA plasma</text></g>
<g transform="translate(863.039,1335.897) rotate(-90) scale(0.9987,1.0018)"><text x="0" y="0" font-size="29.5" font-weight="bold" >PAM Units (µg/L*h) in Li-Heparin</text></g>
<g transform="translate(983.161,867.696) scale(1.0555,1.0118)"><text x="0" y="0" font-size="36" >r = 0.86</text></g>
<g transform="translate(983.644,909.615) scale(1.0471,1.0046)"><text x="0" y="0" font-size="36" >p&lt;0.000 </text><path d="M144.932,0.000 L141.680,0.000 L141.680,-18.334 L135.281,-15.785 L135.281,-18.615 L143.262,-24.768 L144.932,-24.768Z"/></g>
<g transform="translate(984.067,978.896) scale(1.0532,1.0118)"><text x="0" y="0" font-size="36" >n = 69</text></g>
<path d="M1046.40,1282.88 L1048.40,1281.32 L1050.40,1279.75 L1052.40,1278.18 L1054.40,1276.61 L1056.40,1275.03 L1058.40,1273.45 L1060.40,1271.87 L1062.40,1270.28 L1064.40,1268.69 L1066.39,1267.09 L1068.39,1265.49 L1070.39,1263.89 L1072.39,1262.29 L1074.39,1260.68 L1076.39,1259.07 L1078.39,1257.45 L1080.39,1255.83 L1082.39,1254.21 L1084.39,1252.59 L1086.39,1250.96 L1088.39,1249.33 L1090.39,1247.69 L1092.39,1246.05 L1094.39,1244.41 L1096.39,1242.76 L1098.39,1241.11 L1100.39,1239.46 L1102.38,1237.80 L1104.38,1236.14 L1106.38,1234.48 L1108.38,1232.81 L1110.38,1231.14 L1112.38,1229.47 L1114.38,1227.79 L1116.38,1226.11 L1118.38,1224.43 L1120.38,1222.74 L1122.38,1221.05 L1124.38,1219.35 L1126.38,1217.66 L1128.38,1215.95 L1130.38,1214.25 L1132.38,1212.54 L1134.38,1210.83 L1136.38,1209.11 L1138.37,1207.40 L1140.37,1205.67 L1142.37,1203.95 L1144.37,1202.22 L1146.37,1200.49 L1148.37,1198.75 L1150.37,1197.01 L1152.37,1195.27 L1154.37,1193.52 L1156.37,1191.77 L1158.37,1190.02 L1160.37,1188.27 L1162.37,1186.51 L1164.37,1184.74 L1166.37,1182.98 L1168.37,1181.21 L1170.37,1179.43 L1172.37,1177.65 L1174.36,1175.87 L1176.36,1174.09 L1178.36,1172.30 L1180.36,1170.51 L1182.36,1168.72 L1184.36,1166.92 L1186.36,1165.12 L1188.36,1163.31 L1190.36,1161.51 L1192.36,1159.69 L1194.36,1157.88 L1196.36,1156.06 L1198.36,1154.24 L1200.36,1152.41 L1202.36,1150.59 L1204.36,1148.75 L1206.36,1146.92 L1208.36,1145.08 L1210.35,1143.24 L1212.35,1141.39 L1214.35,1139.54 L1216.35,1137.69 L1218.35,1135.83 L1220.35,1133.97 L1222.35,1132.11 L1224.35,1130.24 L1226.35,1128.37 L1228.35,1126.50 L1230.35,1124.62 L1232.35,1122.74 L1234.35,1120.86 L1236.35,1118.97 L1238.35,1117.08 L1240.35,1115.19 L1242.35,1113.29 L1244.35,1111.39 L1246.34,1109.48 L1248.34,1107.57 L1250.34,1105.66 L1252.34,1103.75 L1254.34,1101.83 L1256.34,1099.91 L1258.34,1097.98 L1260.34,1096.05 L1262.34,1094.12 L1264.34,1092.19 L1266.34,1090.25 L1268.34,1088.31 L1270.34,1086.36 L1272.34,1084.41 L1274.34,1082.46 L1276.34,1080.50 L1278.34,1078.54 L1280.34,1076.58 L1282.33,1074.61 L1284.33,1072.64 L1286.33,1070.67 L1288.33,1068.69 L1290.33,1066.71 L1292.33,1064.73 L1294.33,1062.74 L1296.33,1060.75 L1298.33,1058.76 L1300.33,1056.76 L1302.33,1054.76 L1304.33,1052.75 L1306.33,1050.75 L1308.33,1048.74 L1310.33,1046.72 L1312.33,1044.70 L1314.33,1042.68 L1316.33,1040.66 L1318.32,1038.63 L1320.32,1036.60 L1322.32,1034.56 L1324.32,1032.52 L1326.32,1030.48 L1328.32,1028.43 L1330.32,1026.38 L1332.32,1024.33 L1334.32,1022.28 L1336.32,1020.22 L1338.32,1018.15 L1340.32,1016.09 L1342.32,1014.02 L1344.32,1011.94 L1346.32,1009.87 L1348.32,1007.79 L1350.32,1005.70 L1352.32,1003.62 L1354.31,1001.53 L1356.31,999.43 L1358.31,997.33 L1360.31,995.23 L1362.31,993.13 L1364.31,991.02 L1366.31,988.91 L1368.31,986.80 L1370.31,984.68 L1372.31,982.56 L1374.31,980.43 L1376.31,978.30 L1378.31,976.17 L1380.31,974.04 L1382.31,971.90 L1384.31,969.76 L1386.31,967.61 L1388.31,965.46 L1390.30,963.31 L1392.30,961.15 L1394.30,958.99 L1396.30,956.83 L1398.30,954.66 L1400.30,952.49 L1402.30,950.32 L1404.30,948.15 L1406.30,945.97 L1408.30,943.78" fill="none" stroke="#000" stroke-width="2.3" stroke-linecap="round" stroke-dasharray="0.01 7.748" />
<path d="M1046.40,1325.33 L1048.40,1323.25 L1050.39,1321.16 L1052.39,1319.08 L1054.38,1317.00 L1056.38,1314.92 L1058.37,1312.85 L1060.37,1310.78 L1062.36,1308.71 L1064.36,1306.65 L1066.35,1304.59 L1068.35,1302.53 L1070.34,1300.48 L1072.34,1298.43 L1074.33,1296.38 L1076.33,1294.34 L1078.32,1292.30 L1080.32,1290.27 L1082.31,1288.23 L1084.31,1286.20 L1086.30,1284.18 L1088.30,1282.15 L1090.29,1280.14 L1092.29,1278.12 L1094.28,1276.11 L1096.28,1274.10 L1098.27,1272.09 L1100.27,1270.09 L1102.26,1268.09 L1104.26,1266.09 L1106.25,1264.10 L1108.25,1262.11 L1110.24,1260.12 L1112.24,1258.14 L1114.23,1256.16 L1116.23,1254.19 L1118.22,1252.21 L1120.22,1250.24 L1122.21,1248.28 L1124.21,1246.32 L1126.20,1244.36 L1128.20,1242.40 L1130.19,1240.45 L1132.19,1238.50 L1134.18,1236.55 L1136.18,1234.61 L1138.17,1232.67 L1140.17,1230.74 L1142.16,1228.80 L1144.16,1226.87 L1146.15,1224.95 L1148.15,1223.02 L1150.14,1221.11 L1152.14,1219.19 L1154.13,1217.28 L1156.13,1215.37 L1158.12,1213.46 L1160.12,1211.56 L1162.11,1209.66 L1164.11,1207.76 L1166.10,1205.87 L1168.10,1203.98 L1170.09,1202.10 L1172.09,1200.21 L1174.08,1198.34 L1176.08,1196.46 L1178.07,1194.59 L1180.07,1192.72 L1182.06,1190.85 L1184.06,1188.99 L1186.05,1187.13 L1188.05,1185.28 L1190.04,1183.42 L1192.04,1181.57 L1194.03,1179.73 L1196.03,1177.89 L1198.02,1176.05 L1200.02,1174.21 L1202.01,1172.38 L1204.01,1170.55 L1206.00,1168.72 L1208.00,1166.90 L1209.99,1165.08 L1211.99,1163.27 L1213.98,1161.46 L1215.98,1159.65 L1217.97,1157.84 L1219.97,1156.04 L1221.96,1154.24 L1223.96,1152.44 L1225.95,1150.65 L1227.95,1148.86 L1229.95,1147.08 L1231.94,1145.30 L1233.94,1143.52 L1235.93,1141.74 L1237.93,1139.97 L1239.92,1138.20 L1241.92,1136.43 L1243.91,1134.67 L1245.91,1132.91 L1247.90,1131.16 L1249.90,1129.41 L1251.89,1127.66 L1253.89,1125.91 L1255.88,1124.17 L1257.88,1122.43 L1259.87,1120.69 L1261.87,1118.96 L1263.86,1117.23 L1265.86,1115.51 L1267.85,1113.79 L1269.85,1112.07 L1271.84,1110.35 L1273.84,1108.64 L1275.83,1106.93 L1277.83,1105.23 L1279.82,1103.52 L1281.82,1101.83 L1283.81,1100.13 L1285.81,1098.44 L1287.80,1096.75 L1289.80,1095.06 L1291.79,1093.38 L1293.79,1091.70 L1295.78,1090.03 L1297.78,1088.36 L1299.77,1086.69 L1301.77,1085.02 L1303.76,1083.36 L1305.76,1081.70 L1307.75,1080.05 L1309.75,1078.40 L1311.74,1076.75 L1313.74,1075.10 L1315.73,1073.46 L1317.73,1071.82 L1319.72,1070.19 L1321.72,1068.55 L1323.71,1066.93 L1325.71,1065.30 L1327.70,1063.68 L1329.70,1062.06 L1331.69,1060.44 L1333.69,1058.83 L1335.68,1057.22 L1337.68,1055.62 L1339.67,1054.02 L1341.67,1052.42 L1343.66,1050.82 L1345.66,1049.23 L1347.65,1047.64 L1349.65,1046.06 L1351.64,1044.48 L1353.64,1042.90 L1355.63,1041.32 L1357.63,1039.75 L1359.62,1038.18 L1361.62,1036.62 L1363.61,1035.06 L1365.61,1033.50 L1367.60,1031.94 L1369.60,1030.39 L1371.59,1028.84 L1373.59,1027.30 L1375.58,1025.76 L1377.58,1024.22 L1379.57,1022.68 L1381.57,1021.15 L1383.56,1019.62 L1385.56,1018.10 L1387.55,1016.58 L1389.55,1015.06 L1391.54,1013.54 L1393.54,1012.03 L1395.53,1010.52 L1397.53,1009.02 L1399.52,1007.52 L1401.52,1006.02 L1403.51,1004.52 L1405.51,1003.03 L1407.50,1001.54 L1409.50,1000.06" fill="none" stroke="#000" stroke-width="2.3" stroke-linecap="round" stroke-dasharray="0.01 7.737" />
<line x1="1045.9" y1="1300.3" x2="1412.2" y2="968.7" stroke="#000" stroke-width="2.6"/>
<circle cx="1046.10" cy="1300.20" r="5.5"/>
<circle cx="1102.80" cy="1285.50" r="5.5"/>
<circle cx="1086.10" cy="1244.80" r="5.5"/>
<circle cx="1107.90" cy="1245.40" r="5.5"/>
<circle cx="1112.10" cy="1233.40" r="5.5"/>
<circle cx="1116.20" cy="1240.10" r="5.5"/>
<circle cx="1123.90" cy="1196.30" r="5.5"/>
<circle cx="1130.60" cy="1207.40" r="5.5"/>
<circle cx="1125.50" cy="1217.40" r="5.5"/>
<circle cx="1123.50" cy="1222.70" r="5.5"/>
<circle cx="1129.50" cy="1221.40" r="5.5"/>
<circle cx="1153.50" cy="1192.00" r="5.5"/>
<circle cx="1172.20" cy="1185.30" r="5.5"/>
<circle cx="1186.90" cy="1180.70" r="5.5"/>
<circle cx="1166.20" cy="1197.40" r="5.5"/>
<circle cx="1148.50" cy="1218.70" r="5.5"/>
<circle cx="1158.90" cy="1216.00" r="5.5"/>
<circle cx="1168.90" cy="1218.70" r="5.5"/>
<circle cx="1178.00" cy="1206.00" r="5.5"/>
<circle cx="1193.60" cy="1202.70" r="5.5"/>
<circle cx="1188.00" cy="1214.00" r="5.5"/>
<circle cx="1139.50" cy="1244.10" r="5.5"/>
<circle cx="1150.20" cy="1240.10" r="5.5"/>
<circle cx="1172.90" cy="1236.70" r="5.5"/>
<circle cx="1136.40" cy="1253.20" r="5.5"/>
<circle cx="1149.80" cy="1258.10" r="5.5"/>
<circle cx="1170.20" cy="1259.00" r="5.5"/>
<circle cx="1177.60" cy="1256.80" r="5.5"/>
<circle cx="1141.40" cy="1169.80" r="5.5"/>
<circle cx="1175.00" cy="1168.20" r="5.5"/>
<circle cx="1178.00" cy="1173.20" r="5.5"/>
<circle cx="1192.10" cy="1167.20" r="5.5"/>
<circle cx="1184.50" cy="1158.10" r="5.5"/>
<circle cx="1200.20" cy="1151.10" r="5.5"/>
<circle cx="1205.20" cy="1150.00" r="5.5"/>
<circle cx="1200.20" cy="1174.80" r="5.5"/>
<circle cx="1188.10" cy="1179.30" r="5.5"/>
<circle cx="1204.20" cy="1184.30" r="5.5"/>
<circle cx="1213.30" cy="1182.30" r="5.5"/>
<circle cx="1166.00" cy="1197.40" r="5.5"/>
<circle cx="1167.60" cy="1131.30" r="5.5"/>
<circle cx="1179.00" cy="1143.00" r="5.5"/>
<circle cx="1190.50" cy="1106.30" r="5.5"/>
<circle cx="1208.20" cy="1115.20" r="5.5"/>
<circle cx="1216.30" cy="1126.50" r="5.5"/>
<circle cx="1210.30" cy="1162.70" r="5.5"/>
<circle cx="1221.30" cy="1166.20" r="5.5"/>
<circle cx="1224.40" cy="1173.20" r="5.5"/>
<circle cx="1228.00" cy="1201.00" r="5.5"/>
<circle cx="1211.30" cy="1013.60" r="5.5"/>
<circle cx="1209.50" cy="1089.60" r="5.5"/>
<circle cx="1218.30" cy="1141.00" r="5.5"/>
<circle cx="1227.40" cy="1136.40" r="5.5"/>
<circle cx="1217.70" cy="1140.80" r="5.5"/>
<circle cx="1241.10" cy="1139.50" r="5.5"/>
<circle cx="1256.70" cy="1139.20" r="5.5"/>
<circle cx="1246.30" cy="1088.80" r="5.5"/>
<circle cx="1257.20" cy="1079.10" r="5.5"/>
<circle cx="1283.00" cy="1063.00" r="5.5"/>
<circle cx="1304.80" cy="1030.30" r="5.5"/>
<circle cx="1304.80" cy="1043.20" r="5.5"/>
<circle cx="1315.20" cy="995.60" r="5.5"/>
<circle cx="1356.80" cy="1027.00" r="5.5"/>
<circle cx="1329.00" cy="1067.30" r="5.5"/>
<circle cx="1325.40" cy="1080.70" r="5.5"/>
<circle cx="1347.50" cy="1076.20" r="5.5"/>
<circle cx="1304.80" cy="1129.50" r="5.5"/>
<circle cx="1413.10" cy="956.10" r="5.5"/>
</svg>
</body></html>
